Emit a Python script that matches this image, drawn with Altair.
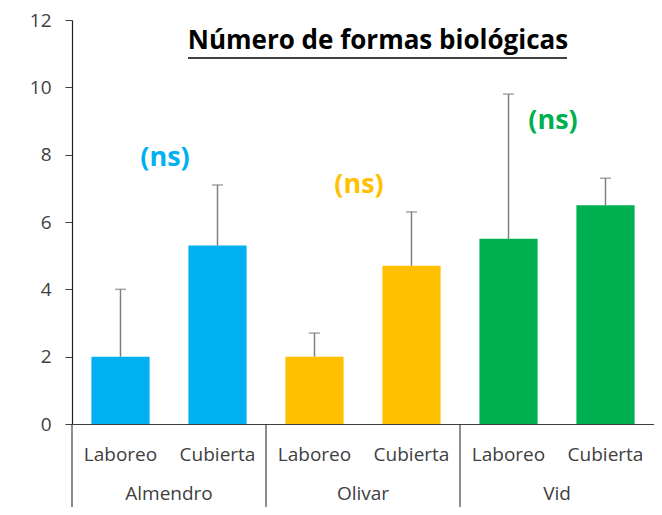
import altair as alt
import pandas as pd

grupos = ["Almendro", "Almendro", "Olivar", "Olivar", "Vid", "Vid"]
tratamientos = ["Laboreo", "Cubierta", "Laboreo", "Cubierta", "Laboreo", "Cubierta"]
medias = [2.0, 5.3, 2.0, 4.7, 5.5, 6.5]
superiores = [4.0, 7.1, 2.7, 6.3, 9.8, 7.3]

ns_grupos = ["Almendro", "Olivar", "Vid"]
ns_texto = ["(ns)", "(ns)", "(ns)"]
ns_y = [7.9, 7.1, 9.0]

colores_dom = ["Almendro", "Olivar", "Vid"]
colores = ["#00B0F0", "#FFC000", "#00B050"]

titulo = "Número de formas biológicas"
y_ticks = [0, 2, 4, 6, 8, 10, 12]

FONT = "Open Sans"

df = pd.DataFrame({
    "grupo": grupos,
    "trat": tratamientos,
    "key": [g + "|" + t for g, t in zip(grupos, tratamientos)],
    "media": medias,
    "sup": superiores,
})
df_ns = pd.DataFrame({
    "grupo": ns_grupos,
    "texto": ns_texto,
    "y": ns_y,
    "key": [g + "|Cubierta" for g in ns_grupos],
})

keys = list(df["key"])
xscale = alt.Scale(domain=keys, paddingInner=0, paddingOuter=0)
yscale = alt.Scale(domain=[0, 12], nice=False)
cscale = alt.Scale(domain=colores_dom, range=colores)

base = alt.Chart(df)

bars = base.mark_bar(width=alt.RelativeBandSize(0.6)).encode(
    x=alt.X("key:N", scale=xscale, sort=keys, title=None,
            axis=alt.Axis(labelExpr="split(datum.label,'|')[1]", labelAngle=0,
                          ticks=False, labelFont=FONT, labelFontSize=19,
                          labelColor="#404040", labelPadding=21,
                          domainColor="#404040", domainWidth=1.2)),
    y=alt.Y("media:Q", scale=yscale, title=None,
            axis=alt.Axis(values=y_ticks, grid=False, tickSize=7,
                          tickColor="#404040", domainColor="#202020",
                          domainWidth=1.2, labelFont=FONT, labelFontSize=19,
                          labelColor="#404040", labelPadding=14)),
    color=alt.Color("grupo:N", scale=cscale, legend=None),
)

err = base.mark_rule(color="#7F7F7F", strokeWidth=1.5).encode(
    x=alt.X("key:N", scale=xscale, sort=keys),
    y=alt.Y("media:Q", scale=yscale),
    y2="sup:Q",
)
caps = base.mark_tick(color="#7F7F7F", orient="horizontal", size=11, thickness=1.5).encode(
    x=alt.X("key:N", scale=xscale, sort=keys),
    y=alt.Y("sup:Q", scale=yscale),
)

seps = base.transform_filter(alt.datum.trat == "Laboreo").mark_rule(
    color="#404040", strokeWidth=1.2).encode(
    x=alt.X("key:N", scale=xscale, sort=keys, bandPosition=0),
    y=alt.value(404),
    y2=alt.value(487),
)

glabels = base.transform_filter(alt.datum.trat == "Cubierta").mark_text(
    font=FONT, fontSize=19, color="#404040", baseline="middle").encode(
    x=alt.X("key:N", scale=xscale, sort=keys, bandPosition=0),
    y=alt.value(474),
    text="grupo:N",
)

ns = alt.Chart(df_ns).mark_text(font=FONT, fontSize=27, fontWeight="bold",
                                baseline="middle", dx=-4).encode(
    x=alt.X("key:N", scale=xscale, sort=keys, bandPosition=0),
    y=alt.Y("y:Q", scale=yscale),
    text="texto:N",
    color=alt.Color("grupo:N", scale=cscale, legend=None),
)

df_t = pd.DataFrame({"t": [titulo]})
title_txt = alt.Chart(df_t).mark_text(font=FONT, fontSize=26, fontWeight="bold",
                                      color="#000000", baseline="middle").encode(
    x=alt.value(306), y=alt.value(21), text="t:N")
title_line = alt.Chart(df_t).mark_rule(color="#000000", strokeWidth=1.5).encode(
    x=alt.value(116), x2=alt.value(495), y=alt.value(38))

chart = alt.layer(bars, err, caps, seps, glabels, ns, title_txt, title_line).properties(
    width=582, height=404,
    autosize=alt.AutoSizeParams(type="none"),
    padding={"left": 64, "top": 12, "right": 0, "bottom": 83},
).configure_view(stroke=None)

chart.save("out.html", embed_options={"renderer": "svg", "actions": False})
